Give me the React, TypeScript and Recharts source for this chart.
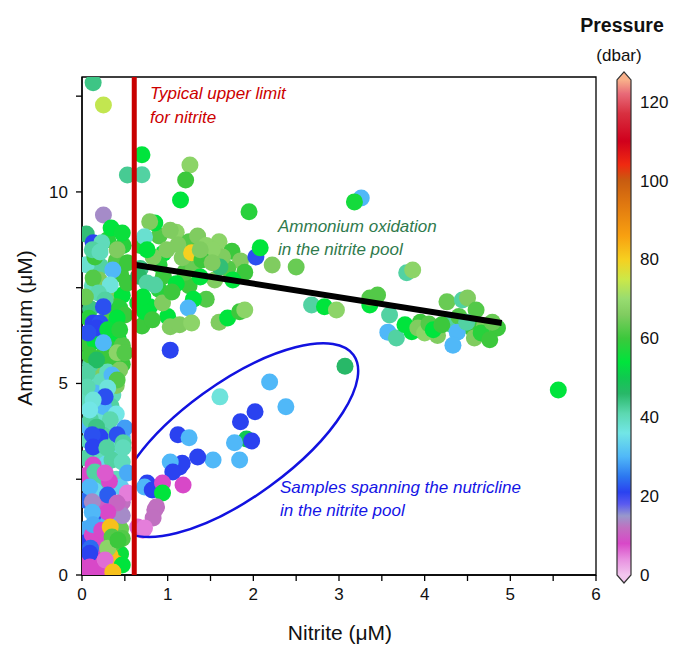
import {
  ScatterChart,
  Scatter,
  XAxis,
  YAxis,
  ReferenceLine,
  ReferenceArea,
  ReferenceDot,
} from "recharts";

// [nitrite µM, ammonium µM, pressure dbar]
type Sample = [number, number, number];

const leftFill: Sample[] = [
  [0.05, 8.9, 45], [0.3, 8.75, 58], [0.4, 8.2, 62], [0.22, 8.05, 42], [0.05, 8.1, 38],
  [0.45, 7.85, 60], [0.35, 7.35, 66], [0.12, 7.55, 40], [0.1, 6.95, 44], [0.3, 6.75, 62],
  [0.42, 6.2, 54], [0.05, 6.05, 60], [0.3, 5.95, 58], [0.25, 5.75, 60], [0.2, 5.4, 66],
  [0.35, 5.55, 60], [0.12, 5.0, 36], [0.05, 4.6, 40], [0.36, 4.7, 40], [0.2, 4.2, 38],
  [0.34, 4.4, 42], [0.05, 3.9, 30], [0.3, 3.8, 40], [0.4, 3.1, 35], [0.2, 3.1, 40],
  [0.05, 3.05, 42], [0.28, 2.9, 34], [0.4, 2.5, 40], [0.2, 2.4, 42], [0.05, 2.6, 8],
  [0.45, 2.3, 33], [0.22, 2.05, 38], [0.05, 1.95, 24], [0.38, 1.55, 8], [0.18, 1.45, 20],
  [0.05, 1.2, 29], [0.45, 1.2, 64], [0.2, 0.95, 8], [0.05, 0.85, 21], [0.4, 0.6, 64],
  [0.18, 0.55, 84], [0.05, 0.35, 8], [0.28, 0.2, 82], [0.18, 0.1, 8], [0.45, 0.55, 55],
  [0.48, 8.6, 58], [0.15, 8.3, 60], [0.47, 7.3, 54], [0.2, 7.7, 66], [0.4, 7.0, 60],
  [0.08, 6.7, 58], [0.36, 6.5, 60], [0.47, 6.0, 62], [0.15, 6.1, 54], [0.3, 5.3, 40],
  [0.1, 5.5, 42], [0.47, 5.5, 60], [0.22, 5.05, 40], [0.4, 4.95, 66], [0.15, 4.75, 30],
  [0.25, 4.4, 30], [0.1, 4.05, 42], [0.4, 4.2, 36], [0.35, 3.55, 38], [0.25, 3.65, 42],
  [0.47, 3.6, 30], [0.08, 3.5, 40], [0.35, 3.0, 42], [0.47, 2.95, 40], [0.15, 2.2, 34],
  [0.32, 2.45, 8], [0.47, 1.9, 12], [0.25, 1.85, 10], [0.47, 1.55, 14], [0.3, 1.35, 30],
  [0.12, 1.05, 8], [0.35, 0.8, 62], [0.47, 0.95, 62], [0.25, 0.6, 8], [0.1, 0.7, 24],
  [0.4, 0.3, 84], [0.22, 0.3, 8], [0.05, 0.1, 8], [0.33, 0.5, 82],
];

const leftColumn: Sample[] = [
  [0.13, 12.85, 44], [0.25, 12.27, 74], [0.53, 10.44, 43], [0.25, 9.4, 14], [0.34, 9.06, 54],
  [0.47, 8.93, 55], [0.13, 8.67, 21], [0.23, 8.67, 40], [0.12, 8.49, 42], [0.21, 8.43, 40],
  [0.41, 8.49, 66], [0.53, 8.15, 60], [0.36, 7.96, 30], [0.13, 7.75, 62], [0.33, 7.57, 37],
  [0.53, 7.62, 60], [0.19, 7.36, 41], [0.04, 7.26, 64], [0.27, 7.18, 42], [0.25, 7.0, 22],
  [0.44, 6.97, 58], [0.5, 6.79, 60], [0.41, 6.71, 54], [0.13, 6.58, 21], [0.21, 6.58, 22],
  [0.17, 6.45, 21], [0.07, 6.32, 22], [0.3, 6.4, 55], [0.44, 6.4, 58], [0.25, 6.06, 30],
  [0.41, 5.8, 68], [0.09, 5.74, 60], [0.17, 5.61, 47], [0.5, 5.8, 62], [0.44, 5.35, 66],
  [0.06, 5.27, 42], [0.35, 5.22, 30], [0.41, 5.09, 62], [0.06, 4.91, 41], [0.3, 4.88, 37],
  [0.27, 4.65, 22], [0.13, 4.57, 37], [0.09, 4.31, 36], [0.33, 4.05, 41], [0.17, 3.86, 44],
  [0.5, 3.84, 28], [0.21, 3.6, 21], [0.12, 3.66, 22], [0.41, 3.66, 22], [0.48, 3.45, 42],
  [0.13, 3.34, 21], [0.29, 3.32, 42], [0.48, 3.32, 40], [0.13, 2.87, 8], [0.15, 2.69, 42],
  [0.27, 2.66, 7], [0.53, 2.66, 29], [0.09, 2.3, 30], [0.3, 2.09, 23], [0.53, 2.14, 5],
  [0.41, 1.88, 11], [0.12, 1.91, 14], [0.3, 1.64, 8], [0.12, 1.64, 30], [0.13, 1.31, 29],
  [0.23, 1.17, 8], [0.33, 1.25, 82], [0.35, 0.99, 62], [0.3, 0.7, 68], [0.09, 0.57, 21],
  [0.27, 0.39, 6], [0.09, 0.21, 8], [0.47, 0.26, 54], [0.36, 0.08, 82], [0.42, 0.91, 60],
];

const oxidationCluster: Sample[] = [
  [0.9, 8.85, 62], [1.1, 8.95, 68], [1.25, 8.7, 62], [1.35, 8.85, 66], [1.6, 8.7, 68],
  [1.75, 8.45, 60], [1.85, 8.2, 66], [1.9, 7.9, 60], [1.55, 7.7, 66], [1.25, 7.55, 60],
  [0.9, 7.45, 58], [0.65, 7.1, 54], [1.0, 6.75, 54], [1.45, 7.2, 62], [1.6, 6.6, 66],
  [1.3, 7.2, 54], [0.7, 6.5, 60], [0.95, 8.4, 54],
  [3.95, 6.6, 60], [4.15, 6.25, 66], [4.3, 6.55, 42], [4.55, 6.45, 60], [4.7, 6.5, 66],
  [4.85, 6.45, 60], [3.85, 6.35, 54], [4.4, 6.75, 62],
  [0.7, 10.97, 54], [0.7, 10.45, 42], [1.26, 10.7, 68], [1.21, 10.31, 60], [1.15, 9.79, 54],
  [1.95, 9.48, 58], [3.26, 9.84, 30], [3.18, 9.74, 56], [2.03, 8.3, 22], [2.08, 8.54, 54],
  [2.22, 8.09, 66], [2.5, 8.04, 64], [3.79, 7.89, 42], [3.86, 7.96, 68], [2.68, 7.05, 42],
  [2.83, 7.0, 54], [2.97, 6.92, 68], [3.36, 7.05, 54], [3.36, 7.23, 62], [3.45, 7.31, 62],
  [3.59, 6.79, 42], [3.57, 6.34, 30], [3.67, 6.19, 42], [3.77, 6.53, 54], [3.92, 6.45, 66],
  [4.0, 6.32, 68], [4.05, 6.55, 62], [4.1, 6.4, 54], [4.2, 6.53, 60], [4.26, 7.13, 64],
  [4.44, 7.18, 42], [4.5, 7.23, 66], [4.6, 6.92, 62], [4.38, 6.34, 30], [4.33, 6.0, 30],
  [4.49, 6.6, 42], [4.58, 6.19, 66], [4.66, 6.32, 58], [4.76, 6.14, 60], [4.79, 6.6, 64],
  [5.56, 4.83, 54], [3.07, 5.45, 46],
  [0.95, 7.8, 60], [1.2, 7.9, 62], [0.68, 8.0, 44], [0.9, 8.1, 58], [1.45, 8.6, 68],
  [1.7, 8.0, 62], [1.1, 7.6, 54], [0.66, 7.8, 46], [0.68, 8.6, 58], [1.3, 8.0, 64],
  [1.24, 6.97, 30], [1.7, 6.71, 54], [1.84, 6.87, 60], [1.9, 6.92, 68], [1.03, 6.48, 66],
  [1.14, 6.53, 66], [1.28, 6.58, 68], [0.79, 7.0, 54], [0.73, 6.87, 54], [0.94, 7.1, 66],
  [0.82, 6.66, 60], [1.05, 7.39, 60], [1.38, 7.78, 54], [1.76, 7.7, 54], [1.64, 8.3, 66],
  [1.61, 8.04, 45], [1.52, 8.49, 68], [1.17, 8.28, 66], [1.12, 8.62, 66], [1.28, 8.41, 80],
  [1.03, 9.0, 66], [0.85, 9.19, 54], [0.79, 9.22, 66], [0.73, 8.83, 38], [0.83, 8.3, 66],
  [0.99, 8.49, 66], [0.76, 8.49, 54], [0.76, 7.62, 42], [0.85, 7.57, 42], [0.71, 7.26, 54],
  [1.4, 8.22, 60], [1.52, 8.15, 66], [1.38, 8.49, 66], [1.03, 5.87, 21],
];

const nutricline: Sample[] = [
  [1.61, 4.65, 37], [2.19, 5.04, 30], [2.38, 4.39, 30], [2.02, 4.26, 21], [1.85, 4.0, 21],
  [1.92, 3.55, 50], [1.98, 3.5, 21], [1.78, 3.45, 30], [1.84, 3.0, 30], [1.53, 3.0, 30],
  [1.35, 3.08, 21], [1.12, 3.66, 21], [1.25, 3.58, 30], [1.14, 2.82, 21], [1.17, 2.92, 21],
  [1.03, 2.95, 30], [1.06, 2.69, 21], [0.76, 2.4, 21], [0.73, 2.3, 30], [0.82, 2.22, 21],
  [0.94, 2.4, 8], [1.18, 2.35, 8], [0.94, 2.14, 54], [0.87, 1.78, 12], [0.85, 1.7, 12],
  [0.83, 1.49, 12], [0.71, 1.17, 5], [0.65, 1.25, 6], [0.73, 1.23, 5],
];

const xTicks = [0, 0.5, 1, 1.5, 2, 2.5, 3, 3.5, 4, 4.5, 5, 5.5, 6];
const yTicks = [0, 2.5, 5, 7.5, 10, 12.5];
const pressureTicks = [0, 20, 40, 60, 80, 100, 120];
const pressureMax = 125.5;

const nitriteLimit = 0.61;
const trend = [
  { x: 0.61, y: 8.1 },
  { x: 4.9, y: 6.58 },
];
const ellipseCenter = { x: 1.8, y: 3.52 };

// colour scale of the pressure bar
const colorStops: [number, string][] = [
  [0, "#f2c6ee"], [4, "#e890e0"], [8, "#d848c8"], [12, "#c070c0"], [15, "#9898cc"],
  [18, "#5a5af0"], [21, "#2a42f0"], [25, "#2c78f0"], [30, "#50b8f8"], [36, "#72e6e6"],
  [41, "#5cd8b0"], [46, "#28b868"], [50, "#10c850"], [54, "#00e43c"], [60, "#3cc83c"],
  [66, "#80cc60"], [70, "#98dc70"], [75, "#cce848"], [80, "#f6d020"], [86, "#f8a010"],
  [94, "#e07810"], [100, "#c85c10"], [104, "#f02a10"], [110, "#d0001c"], [117, "#d83040"],
  [122, "#e86a78"], [126, "#f8b08a"],
];

const hex = (c: string) => [1, 3, 5].map((i) => parseInt(c.slice(i, i + 2), 16));

const pressureColor = (p: number) => {
  for (let i = 1; i < colorStops.length; i++) {
    const [p1, c1] = colorStops[i];
    if (p <= p1) {
      const [p0, c0] = colorStops[i - 1];
      const t = (p - p0) / (p1 - p0);
      const a = hex(c0);
      const b = hex(c1);
      const rgb = a.map((v, k) => Math.round(v + (b[k] - v) * t));
      return `rgb(${rgb.join(",")})`;
    }
  }
  return colorStops[colorStops.length - 1][1];
};

const toRows = (s: Sample[]) =>
  s.map(([nitrite, ammonium, pressure]) => ({ nitrite, ammonium, pressure }));

const Dot = (props: any) => (
  <circle
    cx={props.cx}
    cy={props.cy}
    r={8.5}
    fill={pressureColor(props.payload.pressure)}
  />
);

const EllipseShape = (props: any) => {
  const { cx, cy } = props;
  return (
    <g>
      <defs>
        <clipPath id="ellClip">
          <rect x={cx - 100} y={cy - 200} width={400} height={400} />
        </clipPath>
      </defs>
      <g clipPath="url(#ellClip)">
        <ellipse
          cx={cx}
          cy={cy}
          rx={145}
          ry={57}
          transform={`rotate(-36 ${cx} ${cy})`}
          fill="none"
          stroke="#1212e0"
          strokeWidth={2.5}
        />
      </g>
    </g>
  );
};

const ColorBar = (props: any) => {
  const { x, y, width, height } = props;
  const tip = 8;
  const mid = x + width / 2;
  return (
    <g>
      <defs>
        <linearGradient id="pgrad" x1="0" y1="1" x2="0" y2="0">
          {colorStops.map(([p, c]) => (
            <stop key={p} offset={Math.min(p / pressureMax, 1)} stopColor={c} />
          ))}
        </linearGradient>
      </defs>
      <path d={`M${x},${y} L${mid},${y - tip} L${x + width},${y} Z`} fill="#f8b08a" />
      <rect x={x} y={y} width={width} height={height} fill="url(#pgrad)" />
      <path
        d={`M${x},${y + height} L${mid},${y + height + tip} L${x + width},${y + height} Z`}
        fill="#f2c6ee"
      />
      <path
        d={`M${x},${y} L${mid},${y - tip} L${x + width},${y} L${x + width},${y + height} L${mid},${y + height + tip} L${x},${y + height} Z`}
        fill="none"
        stroke="#333"
        strokeWidth={1.2}
      />
    </g>
  );
};

const fmt = (v: number) => (Number.isInteger(v) ? String(v) : "");
const tickStyle = { fontSize: 17, fill: "#111" };
const barRows = colorStops.map(([p]) => ({ x: 0.5, p }));

export default function App() {
  return (
    <div
      style={{
        position: "absolute",
        left: 0,
        top: 0,
        width: 673,
        height: 646,
        background: "#fff",
        fontFamily: "'Liberation Sans', Arial, sans-serif",
      }}
    >
      <ScatterChart
        width={673}
        height={646}
        margin={{ top: 77, right: 77, bottom: 41, left: 0 }}
      >
        <XAxis
          type="number"
          dataKey="nitrite"
          domain={[0, 6]}
          ticks={xTicks}
          interval={0}
          tickFormatter={fmt}
          allowDataOverflow
          height={30}
          tick={tickStyle}
          tickSize={6}
          tickMargin={7}
          stroke="#000"
          strokeWidth={1.3}
        />
        <YAxis
          type="number"
          dataKey="ammonium"
          domain={[0, 13]}
          ticks={yTicks}
          interval={0}
          tickFormatter={fmt}
          allowDataOverflow
          width={82}
          tick={tickStyle}
          tickSize={6}
          tickMargin={8}
          stroke="#000"
          strokeWidth={1.3}
        />
        <ReferenceArea
          x1={0}
          x2={6}
          y1={0}
          y2={13}
          fill="none"
          stroke="#000"
          strokeWidth={1.3}
          fillOpacity={0}
        />
        <Scatter data={toRows(leftFill)} shape={Dot} isAnimationActive={false} />
        <Scatter data={toRows(leftColumn)} shape={Dot} isAnimationActive={false} />
        <Scatter data={toRows(oxidationCluster)} shape={Dot} isAnimationActive={false} />
        <Scatter data={toRows(nutricline)} shape={Dot} isAnimationActive={false} />
        <ReferenceLine segment={trend} stroke="#000" strokeWidth={6} zIndex={800} />
        <ReferenceDot
          x={ellipseCenter.x}
          y={ellipseCenter.y}
          r={0}
          shape={EllipseShape}
          zIndex={800}
        />
        <ReferenceLine x={nitriteLimit} stroke="#c80000" strokeWidth={5} zIndex={810} />
      </ScatterChart>

      <div style={{ position: "absolute", left: 600, top: 0 }}>
        <ScatterChart
          width={73}
          height={646}
          margin={{ top: 78, right: 0, bottom: 71, left: 17 }}
        >
          <XAxis type="number" dataKey="x" domain={[0, 1]} hide />
          <YAxis
            type="number"
            dataKey="p"
            orientation="right"
            domain={[0, pressureMax]}
            ticks={pressureTicks}
            interval={0}
            width={42}
            axisLine={false}
            tickLine={false}
            tickSize={6}
            tickMargin={3}
            tick={{ fontSize: 17, fill: "#111" }}
          />
          <Scatter data={barRows} shape={() => <g />} isAnimationActive={false} />
          <ReferenceArea y1={0} y2={pressureMax} shape={ColorBar} />
        </ScatterChart>
      </div>

      <svg
        width={673}
        height={646}
        style={{ position: "absolute", left: 0, top: 0, pointerEvents: "none" }}
      >
        <text
          transform="translate(32,328) rotate(-90)"
          textAnchor="middle"
          fontSize={21}
          fill="#111"
        >
          Ammonium (μM)
        </text>
        <text x={340} y={640} textAnchor="middle" fontSize={21} fill="#111">
          Nitrite (μM)
        </text>
        <text x={622} y={32} textAnchor="middle" fontSize={19.5} fontWeight="bold" fill="#111">
          Pressure
        </text>
        <text x={619} y={61} textAnchor="middle" fontSize={17} fill="#111">
          (dbar)
        </text>
        <g fontStyle="italic" fontSize={17}>
          <text x={150} y={99} fill="#cc0000">Typical upper limit</text>
          <text x={150} y={123} fill="#cc0000">for nitrite</text>
          <text x={278} y={232} fill="#2f7a4c">Ammonium oxidation</text>
          <text x={278} y={255} fill="#2f7a4c">in the nitrite pool</text>
          <text x={280} y={493} fill="#1414e6">Samples spanning the nutricline</text>
          <text x={280} y={516} fill="#1414e6">in the nitrite pool</text>
        </g>
      </svg>
    </div>
  );
}
